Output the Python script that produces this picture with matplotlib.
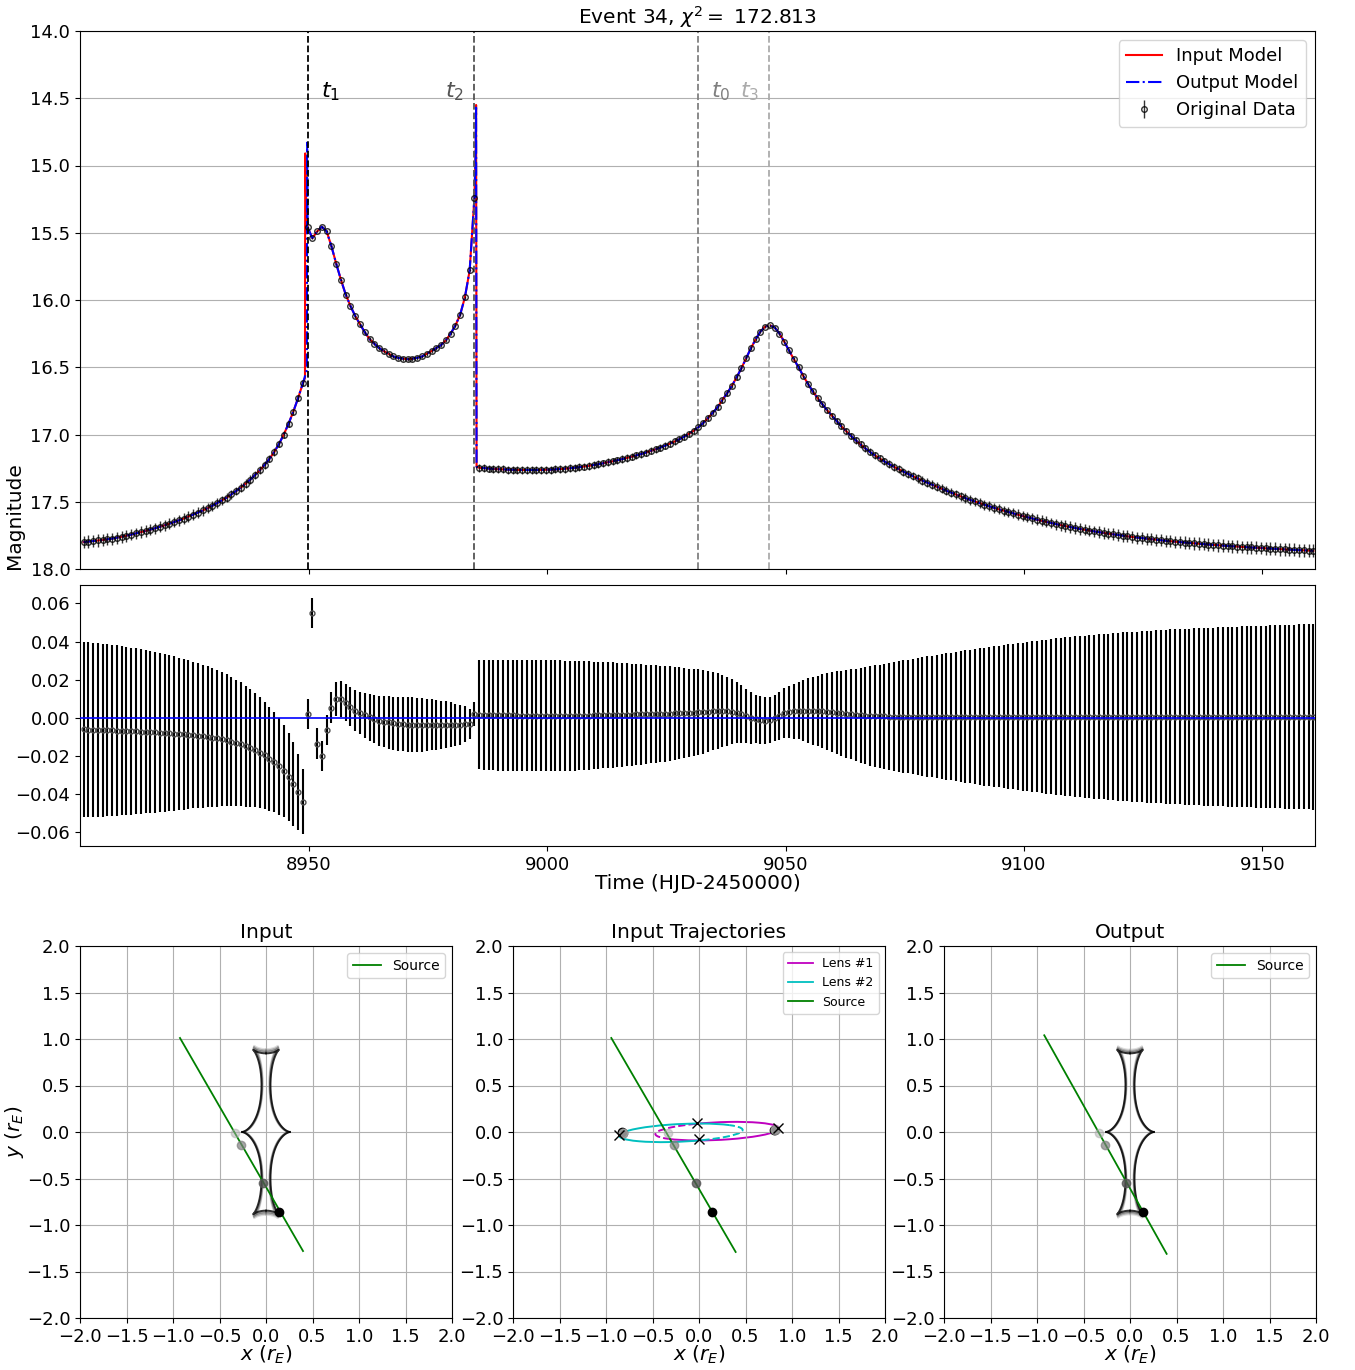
import numpy as np
import matplotlib
matplotlib.use("Agg")
import matplotlib.pyplot as plt
from matplotlib.patches import Arc
from itertools import permutations

# observation epochs (HJD-2450000), one per night
t_obs = np.arange(8902.7, 9161.0, 1.0)

# observed magnitudes, ten nights per row
mag_obs = [
    17.800, 17.796, 17.792, 17.788, 17.784, 17.779, 17.774, 17.767, 17.760, 17.752,
    17.744, 17.735, 17.726, 17.717, 17.707, 17.697, 17.686, 17.675, 17.663, 17.651,
    17.638, 17.625, 17.610, 17.595, 17.580, 17.565, 17.548, 17.530, 17.510, 17.490,
    17.470, 17.445, 17.420, 17.395, 17.365, 17.335, 17.300, 17.265, 17.225, 17.180,
    17.130, 17.070, 17.000, 16.920, 16.830, 16.730, 16.620, 15.460, 15.540, 15.490,
    15.455, 15.490, 15.600, 15.730, 15.850, 15.960, 16.045, 16.120, 16.180, 16.240,
    16.290, 16.325, 16.357, 16.380, 16.400, 16.420, 16.430, 16.436, 16.440, 16.436,
    16.430, 16.420, 16.400, 16.380, 16.357, 16.335, 16.300, 16.250, 16.190, 16.110,
    15.980, 15.780, 15.240, 17.247, 17.250, 17.253, 17.256, 17.258, 17.259, 17.261,
    17.262, 17.263, 17.264, 17.264, 17.264, 17.264, 17.263, 17.262, 17.261, 17.259,
    17.257, 17.254, 17.251, 17.247, 17.243, 17.238, 17.233, 17.227, 17.221, 17.214,
    17.206, 17.199, 17.191, 17.183, 17.174, 17.165, 17.155, 17.145, 17.134, 17.122,
    17.110, 17.097, 17.083, 17.068, 17.052, 17.035, 17.016, 16.995, 16.972, 16.946,
    16.914, 16.878, 16.838, 16.798, 16.744, 16.694, 16.639, 16.575, 16.508, 16.434,
    16.359, 16.292, 16.235, 16.198, 16.188, 16.205, 16.250, 16.310, 16.375, 16.440,
    16.500, 16.565, 16.625, 16.680, 16.730, 16.775, 16.820, 16.860, 16.900, 16.940,
    16.975, 17.010, 17.043, 17.074, 17.103, 17.130, 17.155, 17.178, 17.200, 17.220,
    17.240, 17.258, 17.276, 17.293, 17.310, 17.327, 17.343, 17.358, 17.373, 17.388,
    17.403, 17.418, 17.432, 17.446, 17.460, 17.473, 17.486, 17.498, 17.510, 17.522,
    17.534, 17.545, 17.556, 17.566, 17.576, 17.586, 17.596, 17.606, 17.615, 17.624,
    17.633, 17.642, 17.650, 17.658, 17.666, 17.674, 17.681, 17.688, 17.695, 17.702,
    17.708, 17.714, 17.720, 17.726, 17.732, 17.737, 17.742, 17.747, 17.752, 17.757,
    17.762, 17.766, 17.770, 17.774, 17.778, 17.782, 17.786, 17.790, 17.793, 17.797,
    17.800, 17.803, 17.806, 17.809, 17.812, 17.815, 17.818, 17.821, 17.823, 17.826,
    17.828, 17.831, 17.833, 17.836, 17.838, 17.840, 17.842, 17.844, 17.846, 17.848,
    17.850, 17.852, 17.854, 17.856, 17.858, 17.860, 17.861, 17.863, 17.865,
]

# photometric errors (mag)
mag_err = [
    0.0460, 0.0458, 0.0457, 0.0455, 0.0454, 0.0452, 0.0450, 0.0447, 0.0444, 0.0441,
    0.0439, 0.0435, 0.0432, 0.0428, 0.0425, 0.0421, 0.0417, 0.0413, 0.0409, 0.0404,
    0.0400, 0.0395, 0.0390, 0.0385, 0.0380, 0.0375, 0.0369, 0.0364, 0.0358, 0.0352,
    0.0346, 0.0339, 0.0332, 0.0325, 0.0317, 0.0309, 0.0300, 0.0291, 0.0282, 0.0272,
    0.0262, 0.0252, 0.0242, 0.0232, 0.0222, 0.0200, 0.0170, 0.0078, 0.0081, 0.0080,
    0.0079, 0.0080, 0.0083, 0.0088, 0.0093, 0.0098, 0.0102, 0.0106, 0.0111, 0.0117,
    0.0122, 0.0126, 0.0131, 0.0134, 0.0137, 0.0140, 0.0141, 0.0142, 0.0143, 0.0142,
    0.0141, 0.0140, 0.0137, 0.0134, 0.0131, 0.0128, 0.0123, 0.0118, 0.0112, 0.0105,
    0.0096, 0.0080, 0.0065, 0.0287, 0.0288, 0.0289, 0.0289, 0.0290, 0.0290, 0.0291,
    0.0291, 0.0291, 0.0291, 0.0291, 0.0291, 0.0291, 0.0291, 0.0291, 0.0291, 0.0290,
    0.0290, 0.0289, 0.0288, 0.0287, 0.0286, 0.0285, 0.0284, 0.0282, 0.0281, 0.0279,
    0.0277, 0.0276, 0.0274, 0.0272, 0.0270, 0.0268, 0.0266, 0.0264, 0.0261, 0.0259,
    0.0256, 0.0253, 0.0251, 0.0248, 0.0244, 0.0241, 0.0237, 0.0233, 0.0229, 0.0225,
    0.0219, 0.0213, 0.0205, 0.0198, 0.0188, 0.0180, 0.0171, 0.0161, 0.0151, 0.0142,
    0.0135, 0.0128, 0.0124, 0.0122, 0.0121, 0.0122, 0.0125, 0.0130, 0.0137, 0.0145,
    0.0150, 0.0159, 0.0169, 0.0178, 0.0186, 0.0194, 0.0203, 0.0210, 0.0217, 0.0224,
    0.0229, 0.0236, 0.0242, 0.0249, 0.0255, 0.0261, 0.0266, 0.0272, 0.0277, 0.0281,
    0.0286, 0.0290, 0.0294, 0.0298, 0.0303, 0.0307, 0.0311, 0.0315, 0.0319, 0.0323,
    0.0327, 0.0331, 0.0335, 0.0339, 0.0343, 0.0347, 0.0351, 0.0354, 0.0358, 0.0362,
    0.0365, 0.0368, 0.0372, 0.0375, 0.0378, 0.0382, 0.0385, 0.0388, 0.0392, 0.0395,
    0.0398, 0.0401, 0.0404, 0.0407, 0.0410, 0.0413, 0.0416, 0.0418, 0.0421, 0.0423,
    0.0425, 0.0427, 0.0430, 0.0432, 0.0434, 0.0436, 0.0438, 0.0440, 0.0442, 0.0444,
    0.0446, 0.0447, 0.0449, 0.0450, 0.0452, 0.0453, 0.0455, 0.0456, 0.0458, 0.0459,
    0.0460, 0.0461, 0.0462, 0.0464, 0.0465, 0.0466, 0.0467, 0.0468, 0.0469, 0.0470,
    0.0471, 0.0472, 0.0473, 0.0474, 0.0475, 0.0476, 0.0477, 0.0478, 0.0478, 0.0479,
    0.0480, 0.0481, 0.0482, 0.0482, 0.0483, 0.0484, 0.0485, 0.0486, 0.0487,
]

# data minus output model (mag)
resid = [
    -0.0060, -0.0061, -0.0062, -0.0063, -0.0064, -0.0065, -0.0066, -0.0067, -0.0068, -0.0069,
    -0.0070, -0.0071, -0.0072, -0.0073, -0.0074, -0.0076, -0.0077, -0.0079, -0.0080, -0.0082,
    -0.0084, -0.0086, -0.0088, -0.0090, -0.0093, -0.0096, -0.0099, -0.0103, -0.0107, -0.0112,
    -0.0118, -0.0124, -0.0131, -0.0139, -0.0148, -0.0158, -0.0169, -0.0182, -0.0197, -0.0214,
    -0.0233, -0.0255, -0.0280, -0.0310, -0.0347, -0.0390, -0.0440, 0.0020, 0.0550, -0.0135,
    -0.0200, -0.0063, 0.0054, 0.0098, 0.0098, 0.0080, 0.0059, 0.0038, 0.0024, 0.0014,
    0.0003, -0.0007, -0.0014, -0.0019, -0.0024, -0.0028, -0.0031, -0.0033, -0.0035, -0.0035,
    -0.0037, -0.0037, -0.0037, -0.0037, -0.0037, -0.0037, -0.0037, -0.0037, -0.0037, -0.0035,
    -0.0033, -0.0031, 0.0020, 0.0017, 0.0016, 0.0015, 0.0015, 0.0014, 0.0014, 0.0013,
    0.0013, 0.0012, 0.0012, 0.0012, 0.0011, 0.0011, 0.0011, 0.0011, 0.0011, 0.0011,
    0.0011, 0.0011, 0.0011, 0.0011, 0.0012, 0.0012, 0.0012, 0.0013, 0.0013, 0.0014,
    0.0014, 0.0015, 0.0015, 0.0016, 0.0016, 0.0017, 0.0018, 0.0018, 0.0019, 0.0020,
    0.0020, 0.0021, 0.0022, 0.0022, 0.0023, 0.0024, 0.0025, 0.0026, 0.0027, 0.0029,
    0.0030, 0.0033, 0.0035, 0.0035, 0.0035, 0.0034, 0.0032, 0.0027, 0.0020, 0.0010,
    0.0000, -0.0006, -0.0011, -0.0014, -0.0010, -0.0001, 0.0011, 0.0025, 0.0031, 0.0035,
    0.0037, 0.0038, 0.0038, 0.0037, 0.0036, 0.0034, 0.0032, 0.0030, 0.0027, 0.0024,
    0.0021, 0.0018, 0.0016, 0.0014, 0.0012, 0.0010, 0.0009, 0.0008, 0.0008, 0.0007,
    0.0007, 0.0007, 0.0007, 0.0007, 0.0007, 0.0007, 0.0007, 0.0007, 0.0007, 0.0007,
    0.0007, 0.0007, 0.0007, 0.0007, 0.0007, 0.0007, 0.0007, 0.0007, 0.0007, 0.0007,
    0.0007, 0.0007, 0.0007, 0.0007, 0.0007, 0.0007, 0.0007, 0.0007, 0.0007, 0.0007,
    0.0007, 0.0007, 0.0007, 0.0007, 0.0007, 0.0007, 0.0007, 0.0007, 0.0007, 0.0007,
    0.0006, 0.0006, 0.0006, 0.0006, 0.0006, 0.0006, 0.0006, 0.0006, 0.0006, 0.0006,
    0.0006, 0.0006, 0.0006, 0.0006, 0.0006, 0.0006, 0.0006, 0.0006, 0.0006, 0.0006,
    0.0006, 0.0006, 0.0006, 0.0006, 0.0006, 0.0006, 0.0006, 0.0006, 0.0006, 0.0006,
    0.0006, 0.0006, 0.0006, 0.0006, 0.0006, 0.0006, 0.0006, 0.0006, 0.0006, 0.0006,
    0.0006, 0.0006, 0.0006, 0.0006, 0.0006, 0.0006, 0.0006, 0.0006, 0.0006,
]

# extra model samples across the caustic crossings
in_cross_t = [8949.15, 8949.2, 8949.45, 8984.95, 8985.05, 8985.15]
in_cross_mag = [16.58, 14.91, 15.38, 14.90, 14.55, 17.24]
out_cross_t = [8949.55, 8949.6, 8949.68, 8984.95, 8985.05, 8985.15]
out_cross_mag = [16.52, 14.83, 15.40, 14.92, 14.57, 17.24]

# characteristic times
ev_names = ["$t_0$", "$t_1$", "$t_2$", "$t_3$"]
ev_times = [9031.6, 8949.8, 8984.6, 9046.5]
ev_colors = ["0.5", "0.0", "0.33", "0.67"]
ev_label_dx = [4.8, 4.8, -4.0, -4.0]

# source plane: trajectory end points and positions at t1, t2, t0, t3
src_in_x = [-0.925, 0.398]
src_in_y = [1.011, -1.28]
src_traj_x = [-0.943, 0.394]
src_traj_y = [1.011, -1.29]
src_out_x = [-0.922, 0.394]
src_out_y = [1.04, -1.31]
src_pos_in = [(0.140, -0.857), (-0.036, -0.552), (-0.269, -0.140), (-0.333, -0.014)]
src_pos_out = [(0.142, -0.864), (-0.038, -0.552), (-0.270, -0.140), (-0.336, -0.014)]
pos_colors = ["0.0", "0.33", "0.5", "0.67"]
pos_alpha = [1.0, 0.8, 0.7, 0.5]

# lens separations at t1, t2, t0, t3 (equal masses)
sep_in = [0.83, 0.82, 0.812, 0.805]
sep_out = [0.83, 0.822, 0.815, 0.808]

# lens orbits: centre, full axes, tilt, solid / dashed arcs (deg)
orb1_c, orb2_c = (0.195, 0.009), (-0.195, -0.009)
orb_w, orb_h, orb_tilt = 1.33, 0.19, 2.7
orb1_solid, orb1_dash = (186.4, 518.6), (158.6, 186.4)
orb2_solid, orb2_dash = (6.4, 338.6), (338.6, 366.4)
lens1_pos = [(0.806, 0.022), (0.812, 0.024), (0.818, 0.026), (0.822, 0.028)]
lens2_pos = [(-0.828, -0.003), (-0.822, -0.006), (-0.816, -0.010), (-0.812, -0.013)]
lens_mark_x = [-0.864, 0.849, -0.020, -0.002]
lens_mark_y = [-0.032, 0.039, 0.094, -0.079]


def caustic(sep, n_phi=1200):
    x1, x2 = -sep / 2.0, sep / 2.0
    m1 = m2 = 0.5
    pa = np.poly1d([1.0, -x1]) ** 2
    pb = np.poly1d([1.0, -x2]) ** 2
    perms = [list(p) for p in permutations(range(4))]
    out = np.zeros((n_phi, 4), complex)
    prev = None
    for k, phi in enumerate(np.linspace(0, 2 * np.pi, n_phi)):
        poly = pa * pb * np.exp(1j * phi) - pb * m1 - pa * m2
        w = np.roots(poly.coeffs)
        if prev is not None:
            best = min(perms, key=lambda p: np.abs(w[p] - prev).sum())
            w = w[best]
        out[k] = w
        prev = w
    return np.conj(out) - m1 / (out - x1) - m2 / (out - x2)


fig = plt.figure(figsize=(13.55, 13.7), dpi=100)
W, H = 1355.0, 1370.0
ax1 = fig.add_axes([80 / W, 1 - 569 / H, 1235 / W, 538 / H])
ax2 = fig.add_axes([80 / W, 1 - 846 / H, 1235 / W, 261 / H], sharex=ax1)

# light curve
tt = np.concatenate([t_obs, in_cross_t])
mm = np.concatenate([mag_obs, in_cross_mag])
o = np.argsort(tt)
ax1.plot(tt[o], mm[o], "r-", lw=1.5, label="Input Model")
tt = np.concatenate([t_obs, out_cross_t])
mm = np.concatenate([mag_obs, out_cross_mag])
o = np.argsort(tt)
ax1.plot(tt[o], mm[o], "b-.", lw=1.5, label="Output Model")
ax1.errorbar(t_obs, mag_obs, yerr=mag_err, fmt="o", color="k", ms=4, mfc="none",
             mew=1, elinewidth=1, alpha=0.8, label="Original Data")
for name, tv, c, dx in zip(ev_names, ev_times, ev_colors, ev_label_dx):
    ax1.axvline(tv, color=c, ls="--", lw=1.3)
    ax1.text(tv + dx, 14.45, name, color=c, fontsize=16, ha="center", va="center")
ax1.set_ylim(18.0, 14.0)
ax1.set_yticks(np.arange(14.0, 18.01, 0.5))
ax1.yaxis.grid(True)
ax1.tick_params(labelbottom=False, labelsize=13)
ax1.set_ylabel("Magnitude", fontsize=14.5)
ax1.yaxis.set_label_coords(-0.0453, 0.1)
ax1.set_title(r"Event 34, $\chi^2 = $ 172.813", fontsize=14.5, pad=5)
ax1.legend(loc="upper right", fontsize=13)

# residuals
ax2.errorbar(t_obs, resid, yerr=mag_err, fmt="o", ms=3.5, mfc="none", mec="0.3",
             mew=1, ecolor="k", elinewidth=1.5)
ax2.axhline(0.0, color="b", lw=1.2, zorder=3)
ax2.set_xlim(8901.95, 9161.05)
ax2.set_ylim(-0.0672, 0.0697)
ax2.set_yticks([-0.06, -0.04, -0.02, 0.0, 0.02, 0.04, 0.06])
ax2.set_xticks([8950, 9000, 9050, 9100, 9150])
ax2.tick_params(labelsize=13)
ax2.set_xlabel("Time (HJD-2450000)", fontsize=14.5)
ax2.xaxis.set_label_coords(0.5, -0.108)

# source plane panels
lefts = [80, 513, 944]
axs = [fig.add_axes([l / W, 1 - 1318 / H, 372 / W, 372 / H]) for l in lefts]
ticks = np.arange(-2.0, 2.01, 0.5)
for ax in axs:
    ax.set_xlim(-2, 2)
    ax.set_ylim(-2, 2)
    ax.set_xticks(ticks)
    ax.set_yticks(ticks)
    ax.grid(True)
    ax.tick_params(labelsize=13)
    ax.set_xlabel("$x$ ($r_E$)", fontsize=14.5)
    ax.xaxis.set_label_coords(0.5, -0.068)

for ax, seps, sx, sy, spos, title in [
        (axs[0], sep_in, src_in_x, src_in_y, src_pos_in, "Input"),
        (axs[2], sep_out, src_out_x, src_out_y, src_pos_out, "Output")]:
    # faintest caustic first so the t1 caustic sits on top
    for s, c, a in list(zip(seps, pos_colors, pos_alpha))[::-1]:
        z = caustic(s)
        for j in range(4):
            ax.plot(z[:, j].real, z[:, j].imag, color=c, lw=1.4, alpha=a * 0.8)
    ax.plot(sx, sy, "g-", lw=1.3, label="Source")
    for (px, py), c, a in zip(spos, pos_colors, pos_alpha):
        ax.plot(px, py, "o", color=c, ms=6, alpha=a, zorder=4)
    ax.set_title(title, fontsize=14.5)
    ax.legend(loc="upper right", fontsize=10)
axs[0].set_ylabel("$y$ ($r_E$)", fontsize=14.5)
axs[0].yaxis.set_label_coords(-0.145, 0.5)

ax = axs[1]
ax.add_patch(Arc(orb1_c, orb_w, orb_h, angle=orb_tilt, theta1=orb1_solid[0],
                 theta2=orb1_solid[1], color="m", lw=1.4))
ax.add_patch(Arc(orb1_c, orb_w, orb_h, angle=orb_tilt, theta1=orb1_dash[0],
                 theta2=orb1_dash[1], color="m", lw=1.4, ls="--"))
ax.add_patch(Arc(orb2_c, orb_w, orb_h, angle=orb_tilt, theta1=orb2_solid[0],
                 theta2=orb2_solid[1], color="c", lw=1.4))
ax.add_patch(Arc(orb2_c, orb_w, orb_h, angle=orb_tilt, theta1=orb2_dash[0],
                 theta2=orb2_dash[1], color="c", lw=1.4, ls="--"))
ax.plot([], [], "m-", lw=1.3, label="Lens #1")
ax.plot([], [], "c-", lw=1.3, label="Lens #2")
ax.plot(src_traj_x, src_traj_y, "g-", lw=1.3, label="Source")
for p1, p2, (spx, spy), c, a in zip(lens1_pos, lens2_pos, src_pos_in, pos_colors, pos_alpha):
    ax.plot(*p1, "o", color=c, ms=6, alpha=a, zorder=4)
    ax.plot(*p2, "o", color=c, ms=6, alpha=a, zorder=4)
    ax.plot(spx, spy, "o", color=c, ms=6, alpha=a, zorder=4)
ax.plot(lens_mark_x, lens_mark_y, "kx", ms=7, mew=1, zorder=5)
ax.set_title("Input Trajectories", fontsize=14.5)
ax.legend(loc="upper right", fontsize=9)

fig.savefig("out.png", dpi=100)
